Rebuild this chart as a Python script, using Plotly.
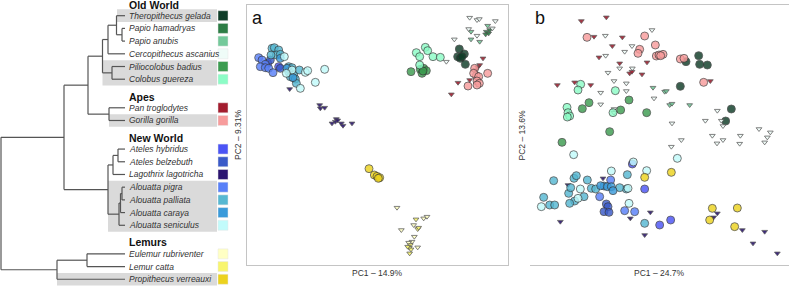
import plotly.graph_objects as go

# ---------------- species metadata ----------------
SPECIES = ["Theropithecus gelada", "Papio hamadryas", "Papio anubis", "Cercopithecus ascanius",
           "Piliocolobus badius", "Colobus guereza", "Pan troglodytes", "Gorilla gorilla",
           "Ateles hybridus", "Ateles belzebuth", "Lagothrix lagotricha", "Alouatta pigra",
           "Alouatta palliata", "Alouatta caraya", "Alouatta seniculus", "Eulemur rubriventer",
           "Lemur catta", "Propithecus verreauxi"]
CODES = ["thge", "paha", "paan", "ceas", "piba", "cogu", "patr", "gogo", "athy", "atbe",
         "lala", "alpi", "alpa", "alca", "alse", "euru", "leca", "prve"]
COLORS = ["#0f3d28", "#2d7d45", "#74c99a", "#effcf8", "#3c9c50", "#8cfcc6", "#a31c2e", "#f79c9c",
          "#4b54f5", "#3a5ac8", "#2b1570", "#5880f8", "#56b8d2", "#3a9ada", "#c2fbfb", "#ffffc4",
          "#f8f56e", "#ecd21e"]
SYMBOLS = ["circle", "triangle-down", "triangle-down", "triangle-down", "circle", "circle",
           "triangle-down", "circle", "circle", "circle", "triangle-down", "circle", "circle",
           "circle", "circle", "triangle-down", "triangle-down", "circle"]
TIP_ROWS = [0, 1, 2, 3, 4, 5, 7.25, 8.25, 10.5, 11.5, 12.5, 13.5, 14.5, 15.5, 16.5, 18.75, 19.75, 20.75]
GROUPS = ["Old World", "Apes", "New World", "Lemurs"]
GROUP_ROWS = [-0.86, 6.42, 9.62, 17.85]

# phylogeny: (name, node depth, children); leaves are species codes
TREE = ("root", 1, [
    ("haplorhini", 64, [
        ("catarrhini", 88, [
            ("cercopithecidae", 102.5, [
                ("cercopithecinae", 108, [
                    ("papionini", 116.5, ["thge", ("papio", 122, ["paha", "paan"])]),
                    "ceas"]),
                ("colobinae", 112, ["piba", "cogu"])]),
            ("hominidae", 109, ["patr", "gogo"])]),
        ("platyrrhini", 108, [
            ("atelini", 113, [("ateles", 118, ["athy", "atbe"]), "lala"]),
            ("alouatta", 119, [("alouatta2", 120.5, [("alouatta1", 122, ["alpi", "alpa"]), "alca"]),
                               "alse"])])]),
    ("strepsirrhini", 57, [("lemuridae", 87, ["euru", "leca"]), "prve"])])
TIP_DEPTH = 125
HIGHLIGHTS = [("thge", "thge", 117), ("piba", "cogu", 102.5), ("gogo", "gogo", 109),
              ("alpi", "alse", 108), ("prve", "prve", 57)]

# ---------------- PCA scores, panel a ----------------
A_THGE_PC1 = [637, 652, 632, 640, 645, 655]
A_THGE_PC2 = [-132, -147, -155, -160, -155, -178]
A_PAHA_PC1 = [718, 728, 716, 725]
A_PAHA_PC2 = [-80, -75, -88, -85]
A_PAAN_PC1 = [722, 672, 698, 672]
A_PAAN_PC2 = [-62, -80, -110, -103]
A_CEAS_PC1 = [668, 690, 697, 745, 736, 665, 690, 622, 598]
A_CEAS_PC2 = [-38, -45, -42, -48, -70, -72, -92, -103, -170]
A_PIBA_PC1 = [492, 520, 530, 538, 525, 528]
A_PIBA_PC2 = [-200, -193, -190, -197, -205, -198]
A_COGU_PC1 = [535, 542, 508, 518, 558, 580, 518]
A_COGU_PC2 = [-127, -137, -143, -155, -155, -157, -180]
A_PATR_PC1 = [708, 698, 692, 685, 668, 633, 613]
A_PATR_PC2 = [-160, -180, -187, -195, -225, -233, -268]
A_GOGO_PC1 = [683, 688, 680, 695, 690, 697, 690, 722, 663]
A_GOGO_PC2 = [-190, -212, -205, -215, -228, -235, -240, -205, -243]
A_ATHY_PC1 = [62, 95]
A_ATHY_PC2 = [-175, -185]
A_ATBE_PC1 = [100, 70]
A_ATBE_PC2 = [-190, -165]
A_LALA_PC1 = [128, 218, 220, 233, 268, 265, 255, 283, 288, 315, 272]
A_LALA_PC2 = [-252, -300, -310, -308, -342, -350, -355, -355, -362, -355, -346]
A_ALPI_PC1 = [35, 45, 55, 40, 55, 65, 78]
A_ALPI_PC2 = [-158, -165, -178, -185, -188, -190, -203]
A_ALPA_PC1 = [75, 82, 95, 88, 100, 72, 125, 135, 125, 140, 130, 145, 148, 157]
A_ALPA_PC2 = [-130, -128, -135, -150, -148, -150, -185, -188, -200, -210, -215, -222, -235, -195]
A_ALCA_PC1 = [100, 120, 138]
A_ALCA_PC2 = [-160, -190, -218]
A_ALSE_PC1 = [112, 135, 160, 175, 182, 205, 233, 118]
A_ALSE_PC2 = [-155, -195, -250, -202, -197, -232, -193, -205]
A_EURU_PC1 = [450, 463, 500, 530, 540, 495, 512, 502, 485]
A_EURU_PC2 = [-608, -675, -660, -640, -635, -710, -727, -695, -713]
A_LECA_PC1 = [507, 512, 515, 490, 487, 492, 488, 482]
A_LECA_PC2 = [-643, -672, -668, -720, -728, -733, -745, -725]
A_PRVE_PC1 = [366, 382, 390, 398, 394]
A_PRVE_PC2 = [-491, -510, -514, -518, -520]

# ---------------- PCA scores, panel b ----------------
B_THGE_PC1 = [512, 515, 538, 474, 457, 610, 593]
B_THGE_PC2 = [-152, -178, -180, -170, -244, -312, -348]
B_PAAN_PC1 = [375, 410, 415, 425, 432, 485]
B_PAAN_PC2 = [-248, -260, -258, -300, -296, -300]
B_CEAS_PC1 = [232, 372, 233, 312, 290, 275, 313, 240, 258, 295, 218, 295, 218, 258, 258, 378,
              568, 532, 580, 585, 432, 553, 567, 585, 637, 635, 693, 727, 718, 710, 460, 430]
B_CEAS_PC2 = [-92, -75, -152, -123, -140, -190, -190, -203, -228, -235, -263, -258, -298, -312, -323, -280,
              -317, -347, -347, -363, -355, -392, -415, -405, -392, -416, -372, -382, -397, -412, -405, -425]
B_PIBA_PC1 = [183, 163, 303, 278, 356, 245, 102]
B_PIBA_PC2 = [-293, -311, -285, -315, -323, -380, -412]
B_COGU_PC1 = [158, 150, 117, 120, 125, 118, 262, 255]
B_COGU_PC2 = [-238, -255, -307, -323, -333, -336, -257, -323]
B_PATR_PC1 = [160, 235, 198, 283, 253, 213, 275, 305, 312, 357, 88, 140, 188, 547, 342]
B_PATR_PC2 = [-48, -37, -95, -97, -123, -157, -175, -205, -200, -172, -240, -232, -240, -228, -208]
B_GOGO_PC1 = [177, 350, 382, 335, 330, 385, 393, 405, 398, 457, 468, 527]
B_GOGO_PC2 = [-97, -93, -120, -133, -145, -153, -150, -148, -152, -162, -160, -232]
B_ATHY_PC1 = [395, 428, 350, 313]
B_ATHY_PC2 = [-660, -645, -552, -477]
B_ATBE_PC1 = [235, 240, 228, 243]
B_ATBE_PC2 = [-597, -605, -620, -622]
B_LALA_PC1 = [225, 120, 97, 307, 367, 350, 557, 568, 643, 710, 675, 748]
B_LALA_PC2 = [-520, -540, -650, -640, -622, -690, -637, -625, -675, -680, -715, -745]
B_ALPI_PC1 = [215, 248, 290, 320]
B_ALPI_PC2 = [-575, -525, -617, -620]
B_ALPA_PC1 = [77, 47, 65, 80, 122, 128, 138, 145, 178, 190, 203, 168, 140, 125, 298, 295, 275, 350]
B_ALPA_PC2 = [-527, -577, -600, -600, -565, -548, -520, -512, -525, -550, -552, -575, -588, -595, -509, -552, -548, -655]
B_ALCA_PC1 = [228, 218, 238, 250, 255]
B_ALCA_PC2 = [-543, -542, -545, -545, -557]
B_ALSE_PC1 = [137, 448, 316, 250, 356, 157, 150, 303, 40, 300]
B_ALSE_PC2 = [-449, -460, -471, -498, -497, -552, -580, -595, -605, -550]
B_PRVE_PC1 = [350, 430, 553, 628, 545, 620]
B_PRVE_PC2 = [-517, -502, -610, -609, -645, -665]

AXIS_TITLES_A = ("PC1 \u2013 14.9%", "PC2 \u2013 9.31%")
AXIS_TITLES_B = ("PC1 \u2013 24.7%", "PC2 \u2013 13.6%")

W, H = 790, 286
def px(x):
    return x / W
def py(y):
    return 1 - y / H

fig = go.Figure()

# ---------------- tree ----------------
tree_x, tree_y = [], []
def draw(node):
    if isinstance(node, str):
        return TIP_ROWS[CODES.index(node)], TIP_DEPTH
    _, depth, children = node
    cys = []
    for ch in children:
        cy, cx = draw(ch)
        tree_x.extend([depth, cx, None])
        tree_y.extend([cy, cy, None])
        cys.append(cy)
    tree_x.extend([depth, depth, None])
    tree_y.extend([min(cys), max(cys), None])
    return (min(cys) + max(cys)) / 2, depth

draw(TREE)

shapes = []
for first, last, start in HIGHLIGHTS:
    r0 = TIP_ROWS[CODES.index(first)] - 0.5
    r1 = TIP_ROWS[CODES.index(last)] + 0.5
    shapes.append(dict(type="rect", xref="x3", yref="y3", x0=start, x1=217, y0=r0, y1=r1,
                       fillcolor="#dadada", line=dict(width=0), layer="below"))

fig.add_trace(go.Scatter(x=tree_x, y=tree_y, mode="lines", xaxis="x3", yaxis="y3",
                         line=dict(color="#555555", width=1.2), hoverinfo="skip", showlegend=False))
fig.add_trace(go.Scatter(x=[223] * len(CODES), y=TIP_ROWS, mode="markers", xaxis="x3", yaxis="y3",
                         marker=dict(symbol="square", size=10, color=COLORS,
                                     line=dict(color="#e6e6e6", width=0.5)),
                         hoverinfo="skip", showlegend=False))

annotations = []
for name, row in zip(SPECIES, TIP_ROWS):
    annotations.append(dict(x=126.5, y=row, xref="x3", yref="y3", text="<i>" + name + "</i>",
                            showarrow=False, xanchor="left", yanchor="middle",
                            font=dict(family="Liberation Sans, Arial", size=8.5, color="#333333")))
for name, row in zip(GROUPS, GROUP_ROWS):
    annotations.append(dict(x=126.5, y=row, xref="x3", yref="y3", text="<b>" + name + "</b>",
                            showarrow=False, xanchor="left", yanchor="middle",
                            font=dict(family="Liberation Sans, Arial", size=10.5, color="#111111")))

# ---------------- scatter panels ----------------
g = globals()
for panel, xa, ya in (("A", "x", "y"), ("B", "x2", "y2")):
    for code, color, sym in zip(CODES, COLORS, SYMBOLS):
        kx, ky = f"{panel}_{code.upper()}_PC1", f"{panel}_{code.upper()}_PC2"
        if kx not in g:
            continue
        if sym == "circle":
            mk = dict(symbol="circle", size=8, color=color, opacity=0.82,
                      line=dict(color="#333333", width=0.8))
        else:
            mk = dict(symbol="triangle-down", size=5, color=color, opacity=0.9,
                      line=dict(color="#505050", width=0.8))
        fig.add_trace(go.Scatter(x=g[kx], y=g[ky], mode="markers", xaxis=xa, yaxis=ya,
                                 marker=mk, hoverinfo="skip", showlegend=False))

frame = dict(showticklabels=False, showgrid=False, zeroline=False, ticks="",
             showline=True, mirror=True, linecolor="#c4c4c4", linewidth=1)

A_X0, A_X1, B_X0, B_X1, P_Y0, P_Y1 = 247, 507.5, 529.5, 789, 5, 265

for (x0, x1), (t1, t2), lab, tx in (((A_X0, A_X1), AXIS_TITLES_A, "a", 238),
                                     ((B_X0, B_X1), AXIS_TITLES_B, "b", 521.5)):
    annotations.append(dict(x=px((x0 + x1) / 2), y=py(273), xref="paper", yref="paper", text=t1,
                            showarrow=False, xanchor="center", yanchor="middle",
                            font=dict(family="Liberation Sans, Arial", size=8.5, color="#333333")))
    annotations.append(dict(x=px(tx), y=py((P_Y0 + P_Y1) / 2), xref="paper", yref="paper", text=t2,
                            showarrow=False, textangle=-90, xanchor="center", yanchor="middle",
                            font=dict(family="Liberation Sans, Arial", size=8.5, color="#333333")))
    annotations.append(dict(x=px(x0 + 3), y=py(5.5), xref="paper", yref="paper", text=lab,
                            showarrow=False, xanchor="left", yanchor="top",
                            font=dict(family="Liberation Sans, Arial", size=18, color="#111111")))

fig.update_layout(
    width=W, height=H, margin=dict(l=0, r=0, t=0, b=0),
    paper_bgcolor="white", plot_bgcolor="white", showlegend=False,
    xaxis=dict(domain=[px(A_X0), px(A_X1)], range=[0, 781.5], **frame),
    yaxis=dict(domain=[py(P_Y1), py(P_Y0)], range=[-780, 0], **frame),
    xaxis2=dict(domain=[px(B_X0), px(B_X1)], range=[4.5, 783], **frame),
    yaxis2=dict(domain=[py(P_Y1), py(P_Y0)], range=[-780, 0], **frame),
    xaxis3=dict(domain=[0, px(230)], range=[0, 230], visible=False),
    yaxis3=dict(domain=[0, 1], range=[21.28, -1.236], visible=False),
    shapes=shapes, annotations=annotations,
)

fig.write_html("out.html", config={"displayModeBar": False},
               post_script="document.body.style.margin='0';document.body.style.overflow='hidden';")
